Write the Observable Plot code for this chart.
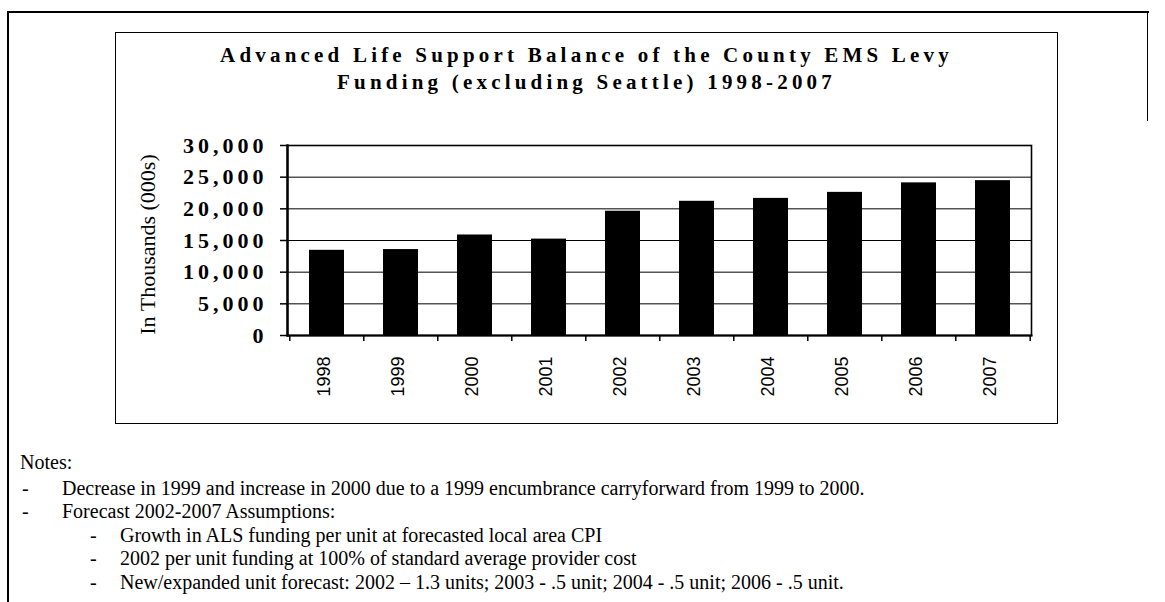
<!DOCTYPE html>
<html>
<head>
<meta charset="utf-8">
<script src="https://cdn.jsdelivr.net/npm/d3@7"></script>
<script src="https://cdn.jsdelivr.net/npm/@observablehq/plot@0.6"></script>
<style>
  html, body { margin: 0; padding: 0; background: #fff; }
  body { width: 1165px; height: 602px; position: relative; overflow: hidden; font-family: "Liberation Serif", serif; color: #000; }
  .abs { position: absolute; }
  #outer { left: 7px; top: 11px; width: 1140px; height: 600px; border-left: 2px solid #000; border-top: 2px solid #000; }
  #outerR { left: 1147px; top: 11px; width: 0; height: 110px; border-left: 1.5px solid #000; }
  #box { left: 115px; top: 32px; width: 941px; height: 390px; border: 1.5px solid #000; }
  #title { left: 115px; top: 42px; width: 943px; text-align: center; font-weight: bold; font-size: 21px; line-height: 27px; letter-spacing: 4.2px; }
  #chart { left: 115px; top: 120px; }
  #chart svg .ytl text { letter-spacing: 4px; }
  .note { position: absolute; font-size: 20px; line-height: 23px; white-space: nowrap; }
</style>
</head>
<body>
<div id="outer" class="abs"></div>
<div id="outerR" class="abs"></div>
<div id="box" class="abs"></div>
<div id="title" class="abs"></div>
<div id="chart" class="abs"></div>
<div id="notes"></div>
<script>
// ---- data ----
const years = ["1998","1999","2000","2001","2002","2003","2004","2005","2006","2007"];
const values = [13450, 13570, 15870, 15220, 19620, 21190, 21650, 22600, 24100, 24450];
const yTicks = [0, 5000, 10000, 15000, 20000, 25000, 30000];
const titleLines = ["Advanced Life Support Balance of the County EMS Levy", "Funding (excluding Seattle) 1998-2007"];
const yLabel = "In Thousands (000s)";
const notesHeader = "Notes:";
const notesLevel1 = ["Decrease in 1999 and increase in 2000 due to a 1999 encumbrance carryforward from 1999 to 2000.", "Forecast 2002-2007 Assumptions:"];
const notesLevel2 = ["Growth in ALS funding per unit at forecasted local area CPI", "2002 per unit funding at 100% of standard average provider cost", "New/expanded unit forecast: 2002 \u2013 1.3 units; 2003 - .5 unit; 2004 - .5 unit; 2006 - .5 unit."];

const rows = years.map((y, i) => ({year: y, value: values[i]}));

document.getElementById("title").innerHTML = titleLines.join("<br>");

// ---- chart ----
const W = 943, H = 304, ML = 172, MR = 27, MT = 25, MB = 89;
const step = (W - ML - MR) / years.length;

const chart = Plot.plot({
  width: W, height: H,
  marginLeft: ML, marginRight: MR, marginTop: MT, marginBottom: MB,
  style: {background: "transparent", color: "#000", overflow: "visible"},
  x: {domain: years, paddingInner: 0.53, paddingOuter: 0.265, label: null},
  y: {domain: [0, 30000], label: null},
  marks: [
    Plot.gridY(yTicks, {stroke: "#000", strokeOpacity: 1, strokeWidth: 1}),
    Plot.barY(rows, {x: "year", y: "value", fill: "#000"}),
    Plot.frame({stroke: "#000", strokeWidth: 1.6}),
    Plot.frame({anchor: "left", stroke: "#000", strokeWidth: 2.4}),
    Plot.frame({anchor: "bottom", stroke: "#000", strokeWidth: 2}),
    Plot.axisY({ticks: yTicks, tickFormat: d3.format(","), tickSize: 7, tickPadding: 13,
      fontSize: 22, fontWeight: "bold", fontFamily: "Liberation Serif", className: "ytl", strokeWidth: 1.5}),
    Plot.axisX({tickFormat: () => "", tickSize: 6, dx: -step / 2, strokeWidth: 1.5}),
    Plot.axisX({ticks: [years[years.length - 1]], tickFormat: () => "", tickSize: 6, dx: step / 2, strokeWidth: 1.5}),
    Plot.axisX({tickSize: 0, tickRotate: -90, tickPadding: 21, dx: -3,
      fontSize: 18, fontFamily: "Liberation Sans"}),
    Plot.text([yLabel], {frameAnchor: "left", dx: -140, dy: 4, rotate: -90, fontSize: 22,
      fontFamily: "Liberation Serif", textAnchor: "middle", fill: "#000"})
  ]
});
document.getElementById("chart").appendChild(chart);

// ---- notes ----
const notes = document.getElementById("notes");
function addNote(text, x, y) {
  const d = document.createElement("div");
  d.className = "note";
  d.style.left = x + "px";
  d.style.top = y + "px";
  d.textContent = text;
  notes.appendChild(d);
}
const lh = 23.4;
addNote(notesHeader, 20, 451);
let y0 = 477;
notesLevel1.forEach((t, i) => {
  addNote("-", 22, y0 + i * lh);
  addNote(t, 62, y0 + i * lh);
});
y0 = 477 + 2 * lh;
notesLevel2.forEach((t, i) => {
  addNote("-", 90, y0 + i * lh);
  addNote(t, 120, y0 + i * lh);
});
</script>
</body>
</html>
